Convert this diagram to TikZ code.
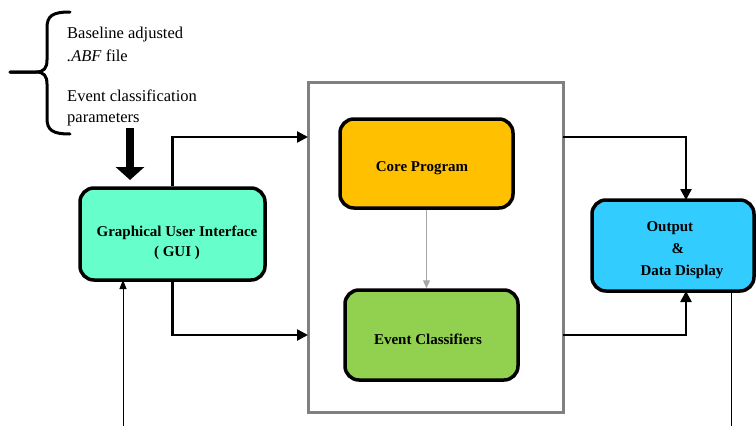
\documentclass[tikz,border=0pt]{standalone}
\usepackage{fontspec}
\setmainfont{Liberation Serif}
\usetikzlibrary{arrows.meta,positioning,calc}
\definecolor{guicol}{HTML}{66FFCC}
\definecolor{corecol}{HTML}{FFC000}
\definecolor{evcol}{HTML}{92D050}
\definecolor{outcol}{HTML}{33CCFF}
\definecolor{framecol}{HTML}{808080}
\tikzset{
  blockbox/.style={draw=black, line width=3.5pt, rounded corners=14pt, inner sep=0pt},
  blocktext/.style={inner sep=0pt, align=center, font=\fontsize{15}{20}\selectfont\bfseries},
  conn/.style={draw=black, line width=2.5pt, -{Triangle[length=11pt,width=11pt]}},
  thinconn/.style={draw=black, line width=1pt, -{Triangle[length=9pt,width=7pt]}},
  intext/.style={anchor=base west, inner sep=0pt, font=\fontsize{16.5}{18}\selectfont},
}
\begin{document}
\begin{tikzpicture}[x=1pt,y=-1pt]
\useasboundingbox (0,0) rectangle (756,426);
% brace
\draw[line width=3pt, line cap=round] (70,12) .. controls (52,12) and (47,16) .. (47,28) -- (47,60) .. controls (47,68) and (44,72) .. (36,72) -- (10,72);
\draw[line width=3pt, line cap=round] (10,72) -- (36,72) .. controls (44,72) and (47,76) .. (47,84) -- (47,118) .. controls (47,130) and (52,134) .. (70,134);
% input texts
\node[intext] (t1) at (67,38) {Baseline adjusted};
\node[intext] (t2) at (67,61) {\textit{.ABF} file};
\node[intext] (t3) at (67,101) {Event classification};
\node[intext] (t4) at (67,122) {parameters};
% frame
\node[draw=framecol, line width=3pt, minimum width=255pt, minimum height=330pt, inner sep=0pt] (frame) at (435.5,247) {};
% blocks
\node[blockbox, fill=guicol, minimum width=185pt, minimum height=92pt] (gui) at (172.5,234) {};
\node[blocktext] (guitxt) at (177,243) {Graphical User Interface\\( GUI )};
\node[blockbox, fill=corecol, minimum width=173pt, minimum height=89pt] (core) at (426.5,163.5) {};
\node[blocktext] (coretxt) at (422,168) {Core Program};
\node[blockbox, fill=evcol, minimum width=173pt, minimum height=90pt] (event) at (431.5,335) {};
\node[blocktext] (evtxt) at (428,339) {Event Classifiers};
\node[blockbox, fill=outcol, minimum width=162pt, minimum height=91pt] (out) at (673,245.5) {};
\node[inner sep=0pt, align=left, font=\fontsize{15}{22}\selectfont\bfseries] (outtxt) at (682,250) {\hspace{6pt}Output\\\hspace{31pt}\&\\Data Display};
% coordinates
\coordinate (inA) at (308,137);
\coordinate (inB) at (308,335);
\coordinate (outA) at (563,137);
\coordinate (outB) at (563,335);
\coordinate (dnA) at (686,200);
\coordinate (dnB) at (686,291);
\coordinate (thickS) at (130,128);
\coordinate (thickE) at (130,180);
\coordinate (guiIn) at (123,426);
\coordinate (guiInE) at (123,280);
\coordinate (outDn) at (731,291);
\coordinate (outDnE) at (731,426);
% connectors
\draw[line width=8pt, -{Triangle[length=13pt,width=28pt]}] (thickS) -- (thickE);
\draw[conn] (gui.north) |- (inA);
\draw[conn] (gui.south) |- (inB);
\draw[conn] (outA) -| (dnA);
\draw[conn] (outB) -| (dnB);
\draw[draw=framecol!70, line width=1pt, -{Triangle[length=8pt,width=7pt]}] (core.south) -- (core.south |- event.north);
\draw[thinconn] (guiIn) -- (guiInE);
\draw[line width=1pt] (outDn) -- (outDnE);
\end{tikzpicture}
\end{document}
